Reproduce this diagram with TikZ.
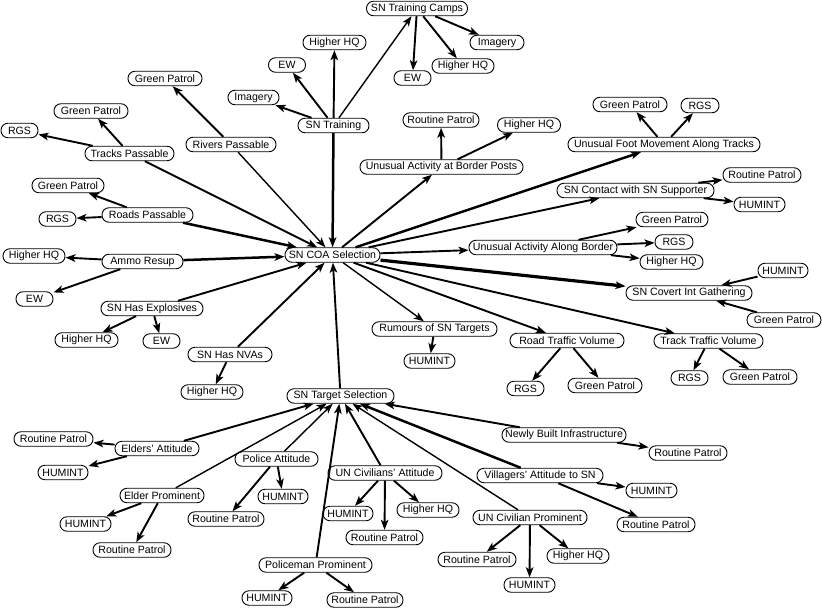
\documentclass[tikz,border=0pt]{standalone}
\usepackage{fontspec}
\setmainfont{Liberation Sans}
\usetikzlibrary{arrows.meta}
\tikzset{
  box/.style={draw, fill=white, rounded corners=7pt, minimum height=14.5pt,
    inner xsep=2pt, inner ysep=0pt, line width=0.9pt,
    font=\fontsize{10.6}{12}\selectfont},
  e/.style={line width=1.9pt, -{Stealth[length=10pt,width=7.5pt,inset=2.5pt]}},
  et/.style={e, line width=1.4pt},
  ek/.style={e, line width=2.5pt},
  ex/.style={e, line width=3.2pt},
}
\newcommand\nd[5]{\node[box,minimum width=#4pt] (#1) at (#2,#3) {#5};}
\begin{document}
\begin{tikzpicture}[x=1pt,y=-1pt]
\useasboundingbox (0,0) rectangle (822,608);
% nodes
\nd{camps}{417}{8.5}{101}{SN Training Camps}
\nd{campsImg}{497}{42.5}{54}{Imagery}
\nd{campsHQ}{463}{66}{62}{Higher HQ}
\nd{campsEW}{412.5}{78}{37}{EW}
\nd{trHQ}{334.5}{42.5}{63}{Higher HQ}
\nd{trEW}{287}{65}{37}{EW}
\nd{trImg}{253.5}{97.5}{51}{Imagery}
\nd{training}{333.5}{125.5}{71}{SN Training}
\nd{bpRP}{441}{120}{76}{Routine Patrol}
\nd{bpHQ}{529}{125}{63}{Higher HQ}
\nd{borderposts}{441.5}{167}{163}{Unusual Activity at Border Posts}
\nd{rivGP}{165}{78.5}{74}{Green Patrol}
\nd{trkGP}{91}{111}{74}{Green Patrol}
\nd{trkRGS}{19.5}{130.5}{37}{RGS}
\nd{tracks}{129.5}{153.5}{89}{Tracks Passable}
\nd{rivers}{231}{144.5}{90}{Rivers Passable}
\nd{rdGP}{68}{185.5}{72}{Green Patrol}
\nd{roads}{147.5}{215}{91}{Roads Passable}
\nd{rdRGS}{57.5}{219}{37}{RGS}
\nd{amHQ}{34}{256}{62}{Higher HQ}
\nd{ammo}{142.5}{261.5}{81}{Ammo Resup}
\nd{amEW}{34.5}{299}{37}{EW}
\nd{expl}{152}{308.5}{102}{SN Has Explosives}
\nd{exHQ}{86.5}{340}{63}{Higher HQ}
\nd{exEW}{161.5}{341}{37}{EW}
\nd{nva}{230}{354.5}{84}{SN Has NVAs}
\nd{nvHQ}{212}{392}{62}{Higher HQ}
\nd{coa}{332.5}{255}{95}{SN COA Selection}
\nd{border}{543}{247.5}{148}{Unusual Activity Along Border}
\nd{rumours}{434.5}{329}{125}{Rumours of SN Targets}
\nd{ruHUM}{429.5}{361}{51}{HUMINT}
\nd{road}{567}{340.5}{114}{Road Traffic Volume}
\nd{roRGS}{525.5}{388.5}{37}{RGS}
\nd{roGP}{605}{385.5}{74}{Green Patrol}
\nd{target}{340.5}{396}{107}{SN Target Selection}
\nd{boGP}{672}{219.5}{72}{Green Patrol}
\nd{boRGS}{674}{242}{38}{RGS}
\nd{boHQ}{671.5}{262}{63}{Higher HQ}
\nd{coHUM}{783}{270.5}{50}{HUMINT}
\nd{covert}{689}{293}{126}{SN Covert Int Gathering}
\nd{coGP}{784}{320}{74}{Green Patrol}
\nd{track}{708.5}{341}{109}{Track Traffic Volume}
\nd{tkRGS}{689.5}{378}{37}{RGS}
\nd{tkGP}{760}{377}{74}{Green Patrol}
\nd{foot}{664}{144.5}{192}{Unusual Foot Movement Along Tracks}
\nd{ftGP}{630}{104.5}{74}{Green Patrol}
\nd{ftRGS}{700}{105.5}{38}{RGS}
\nd{contact}{635.5}{190.5}{157}{SN Contact with SN Supporter}
\nd{ctRP}{762}{175}{78}{Routine Patrol}
\nd{ctHUM}{759.5}{204.5}{51}{HUMINT}
\nd{elRP}{53.5}{439}{79}{Routine Patrol}
\nd{elders}{157}{448.5}{84}{Elders’ Attitude}
\nd{elHUM}{63}{472.5}{50}{HUMINT}
\nd{police}{276.5}{459}{83}{Police Attitude}
\nd{poHUM}{283}{496.5}{50}{HUMINT}
\nd{elderp}{162}{495.5}{84}{Elder Prominent}
\nd{epHUM}{85.5}{524}{51}{HUMINT}
\nd{poRP}{226}{519}{76}{Routine Patrol}
\nd{epRP}{132}{550}{78}{Routine Patrol}
\nd{policeman}{315.5}{565}{113}{Policeman Prominent}
\nd{pmHUM}{267}{598}{50}{HUMINT}
\nd{pmRP}{365}{600}{76}{Routine Patrol}
\nd{unatt}{385}{473}{114}{UN Civilians’ Attitude}
\nd{uaHUM}{348}{513.5}{50}{HUMINT}
\nd{uaHQ}{428}{510}{62}{Higher HQ}
\nd{uaRP}{384.5}{537.5}{77}{Routine Patrol}
\nd{newly}{564}{435}{124}{Newly Built Infrastructure}
\nd{nbRP}{688}{453}{78}{Routine Patrol}
\nd{villagers}{540}{475.5}{126}{Villagers’ Attitude to SN}
\nd{viHUM}{651.5}{490.5}{51}{HUMINT}
\nd{viRP}{656}{524.5}{78}{Routine Patrol}
\nd{unprom}{530}{517.5}{114}{UN Civilian Prominent}
\nd{upRP}{477}{559.5}{78}{Routine Patrol}
\nd{upHUM}{529.5}{585}{51}{HUMINT}
\nd{upHQ}{578}{556}{62}{Higher HQ}
% edges (default width)
\foreach \a/\b in {tracks/trkGP, tracks/trkRGS, tracks/coa, rivers/rivGP,
  roads/rdGP, roads/rdRGS, ammo/amHQ, ammo/amEW, expl/exHQ, expl/exEW, expl/coa,
  nva/nvHQ, nva/coa, training/trHQ, training/trEW, training/trImg,
  camps/campsImg, camps/campsHQ, camps/campsEW,
  coa/borderposts, borderposts/bpRP, borderposts/bpHQ,
  foot/ftGP, foot/ftRGS, coa/contact, contact/ctRP, contact/ctHUM,
  coa/border, border/boGP, border/boRGS, border/boHQ,
  coHUM/covert, coGP/covert, coa/track, track/tkRGS, track/tkGP,
  coa/road, road/roRGS, road/roGP, rumours/ruHUM, target/coa,
  elders/target, elders/elRP, elders/elHUM, elderp/epHUM, elderp/epRP,
  police/poRP, police/poHUM, policeman/target, policeman/pmHUM, policeman/pmRP,
  unatt/target, unatt/uaHUM, unatt/uaRP, unatt/uaHQ,
  unprom/upRP, unprom/upHUM, unprom/upHQ,
  villagers/viHUM, villagers/viRP, newly/target, newly/nbRP}
  \draw[e] (\a) -- (\b);
% thin edges
\foreach \a/\b in {training/camps, rivers/coa, coa/rumours, elderp/target,
  police/target, unprom/target}
  \draw[et] (\a) -- (\b);
% thick edges
\foreach \a/\b in {roads/coa, ammo/coa, training/coa, coa/foot, villagers/target}
  \draw[ek] (\a) -- (\b);
\draw[ex] (coa) -- (covert);
\end{tikzpicture}
\end{document}
